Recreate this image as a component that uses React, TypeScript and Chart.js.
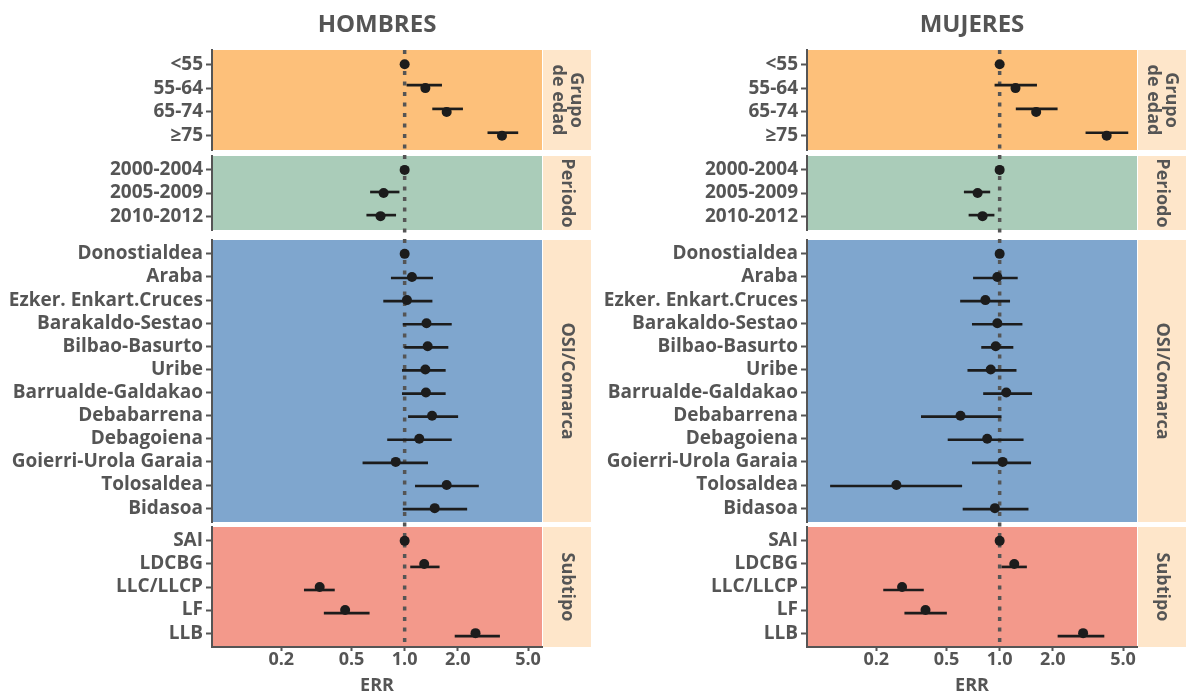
import React, { useEffect, useRef } from 'react';
import { Chart, registerables } from 'chart.js';

Chart.register(...registerables);

// ---------- categories ----------
const grupoLabels = ['<55', '55-64', '65-74', '≥75'];
const periodoLabels = ['2000-2004', '2005-2009', '2010-2012'];
const osiLabels = [
  'Donostialdea', 'Araba', 'Ezker. Enkart.Cruces', 'Barakaldo-Sestao', 'Bilbao-Basurto', 'Uribe',
  'Barrualde-Galdakao', 'Debabarrena', 'Debagoiena', 'Goierri-Urola Garaia', 'Tolosaldea', 'Bidasoa',
];
const subtipoLabels = ['SAI', 'LDCBG', 'LLC/LLCP', 'LF', 'LLB'];
const facetTitles = [['Grupo', 'de edad'], ['Periodo'], ['OSI/Comarca'], ['Subtipo']];
const xTicks = [0.2, 0.5, 1, 2, 5];
const xTitle = 'ERR';
const panelTitles = ['HOMBRES', 'MUJERES'];

// ---------- HOMBRES ----------
const hGrupoErr = [1, 1.31, 1.73, 3.56];
const hGrupoLo = [null, 1.03, 1.44, 2.96];
const hGrupoHi = [null, 1.62, 2.13, 4.38];
const hPeriodoErr = [1, 0.76, 0.73];
const hPeriodoLo = [null, 0.64, 0.61];
const hPeriodoHi = [null, 0.93, 0.89];
const hOsiErr = [1, 1.1, 1.03, 1.33, 1.35, 1.31, 1.32, 1.43, 1.21, 0.89, 1.73, 1.48];
const hOsiLo = [null, 0.84, 0.76, 0.98, 1.0, 0.97, 0.97, 1.05, 0.8, 0.58, 1.15, 0.98];
const hOsiHi = [null, 1.44, 1.43, 1.84, 1.76, 1.7, 1.7, 2.0, 1.84, 1.35, 2.62, 2.25];
const hSubtipoErr = [1, 1.29, 0.33, 0.46, 2.52];
const hSubtipoLo = [null, 1.08, 0.27, 0.35, 1.93];
const hSubtipoHi = [null, 1.57, 0.4, 0.63, 3.45];

// ---------- MUJERES ----------
const mGrupoErr = [1, 1.23, 1.61, 4.04];
const mGrupoLo = [null, 0.94, 1.24, 3.08];
const mGrupoHi = [null, 1.62, 2.12, 5.33];
const mPeriodoErr = [1, 0.75, 0.8];
const mPeriodoLo = [null, 0.63, 0.67];
const mPeriodoHi = [null, 0.88, 0.93];
const mOsiErr = [1, 0.97, 0.83, 0.97, 0.95, 0.89, 1.09, 0.6, 0.85, 1.04, 0.26, 0.94];
const mOsiLo = [null, 0.71, 0.6, 0.7, 0.79, 0.66, 0.81, 0.36, 0.51, 0.7, 0.11, 0.62];
const mOsiHi = [null, 1.26, 1.14, 1.34, 1.19, 1.24, 1.52, 1.02, 1.36, 1.5, 0.61, 1.45];
const mSubtipoErr = [1, 1.21, 0.28, 0.38, 2.97];
const mSubtipoLo = [null, 1.03, 0.22, 0.29, 2.14];
const mSubtipoHi = [null, 1.42, 0.37, 0.5, 3.9];

// ---------- styles / layout ----------
const FONT = 'Open Sans';
const TEXT = '#555555';
const AXIS = '#555555';
const MARK = '#1c1c1c';
const STRIP_BG = '#FEE6CA';
const FACET_COLORS = ['#FDC07A', '#AACCB9', '#7FA6CE', '#F3998B'];
const FACET_WEIGHTS = [100, 74, 282, 120];
const GAP_WEIGHTS = [6, 10, 5];
const X_MIN = 0.081;
const X_MAX = 6.0;
const CANVAS_W = [595, 594];
const CANVAS_H = 695;
const Y_AXIS_W = 212;
const X_AXIS_H = 48;
const STRIP_W = 48;
const Y_FONT = 19;
const X_FONT = 18;
const STRIP_FONT = 18;

type Facet = { id: string; labels: string[]; err: number[]; lo: (number | null)[]; hi: (number | null)[]; title: string[]; color: string };

function makeFacets(sets: any[][]): Facet[] {
  const labelSets = [grupoLabels, periodoLabels, osiLabels, subtipoLabels];
  const ids = ['yGrupo', 'yPeriodo', 'yOsi', 'ySubtipo'];
  return sets.map((s, i) => ({
    id: ids[i], labels: labelSets[i], err: s[0], lo: s[1], hi: s[2], title: facetTitles[i], color: FACET_COLORS[i],
  }));
}

const hombresFacets = makeFacets([
  [hGrupoErr, hGrupoLo, hGrupoHi],
  [hPeriodoErr, hPeriodoLo, hPeriodoHi],
  [hOsiErr, hOsiLo, hOsiHi],
  [hSubtipoErr, hSubtipoLo, hSubtipoHi],
]);
const mujeresFacets = makeFacets([
  [mGrupoErr, mGrupoLo, mGrupoHi],
  [mPeriodoErr, mPeriodoLo, mPeriodoHi],
  [mOsiErr, mOsiLo, mOsiHi],
  [mSubtipoErr, mSubtipoLo, mSubtipoHi],
]);

function buildConfig(title: string, facets: Facet[], rightPad: number): any {
  const scales: any = {
    x: {
      type: 'logarithmic',
      position: 'bottom',
      min: X_MIN,
      max: X_MAX,
      offset: false,
      afterBuildTicks: (s: any) => { s.ticks = xTicks.map((v) => ({ value: v })); },
      afterFit: (s: any) => { s.height = X_AXIS_H; },
      ticks: {
        autoSkip: false, maxRotation: 0, minRotation: 0, padding: 0, color: TEXT,
        font: { family: FONT, size: X_FONT, weight: 'bold', lineHeight: 1 },
        callback: (v: any) => Number(v).toFixed(1),
      },
      grid: { display: true, drawOnChartArea: false, drawTicks: true, tickLength: 4, tickWidth: 2, tickColor: AXIS, offset: false },
      border: { display: true, color: AXIS, width: 2 },
      title: { display: true, text: xTitle, color: TEXT, padding: 0, font: { family: FONT, size: X_FONT, weight: 'bold', lineHeight: 1 } },
    },
  };
  let w = 10;
  facets.forEach((f, i) => {
    scales[f.id] = {
      type: 'linear',
      position: 'left',
      stack: 'facets',
      stackWeight: FACET_WEIGHTS[i],
      weight: w--,
      reverse: true,
      offset: false,
      min: -0.6,
      max: f.labels.length - 0.4,
      afterBuildTicks: (s: any) => { s.ticks = f.labels.map((_, k) => ({ value: k })); },
      afterFit: (s: any) => { s.width = Y_AXIS_W; },
      ticks: {
        autoSkip: false, padding: 3, color: TEXT,
        font: { family: FONT, size: Y_FONT, weight: 'bold' },
        callback: (v: any) => f.labels[v] ?? '',
      },
      grid: { display: true, drawOnChartArea: false, drawTicks: true, tickLength: 6, tickWidth: 2, tickColor: AXIS, offset: false },
      border: { display: true, color: AXIS, width: 2 },
    };
    if (i < facets.length - 1) {
      scales['gap' + i] = {
        type: 'linear', position: 'left', stack: 'facets', stackWeight: GAP_WEIGHTS[i], weight: w--,
        min: 0, max: 1,
        afterFit: (s: any) => { s.width = Y_AXIS_W; },
        ticks: { display: false }, grid: { display: false }, border: { display: false },
      };
    }
  });

  const datasets: any[] = [];
  facets.forEach((f) => {
    datasets.push({
      type: 'bar',
      yAxisID: f.id,
      xAxisID: 'x',
      indexAxis: 'y',
      data: f.labels.flatMap((_, k) => (f.lo[k] == null ? [] : [{ y: k, x: [f.lo[k], f.hi[k]] }])),
      backgroundColor: MARK,
      borderWidth: 0,
      barThickness: 2,
    });
    datasets.push({
      type: 'scatter',
      yAxisID: f.id,
      xAxisID: 'x',
      data: f.err.map((v, k) => ({ x: v, y: k })),
      pointRadius: 5,
      pointHoverRadius: 5,
      backgroundColor: MARK,
      borderWidth: 0,
    });
  });

  const facetPlugin = {
    id: 'facetBackgrounds',
    beforeDraw(chart: any) {
      const { ctx, chartArea } = chart;
      ctx.save();
      facets.forEach((f) => {
        const s = chart.scales[f.id];
        const h = s.bottom - s.top;
        ctx.fillStyle = f.color;
        ctx.fillRect(chartArea.left, s.top, chartArea.right - chartArea.left, h);
        ctx.fillStyle = STRIP_BG;
        ctx.fillRect(chartArea.right + 1, s.top, STRIP_W, h);
        ctx.save();
        ctx.translate(chartArea.right + 1 + STRIP_W / 2, s.top + h / 2);
        ctx.rotate(Math.PI / 2);
        ctx.fillStyle = TEXT;
        ctx.font = `bold ${STRIP_FONT}px "${FONT}"`;
        ctx.textAlign = 'center';
        ctx.textBaseline = 'middle';
        const n = f.title.length;
        f.title.forEach((line, k) => ctx.fillText(line, 0, (k - (n - 1) / 2) * 17.5));
        ctx.restore();
      });
      ctx.restore();
    },
  };

  const refLinePlugin = {
    id: 'refLine',
    beforeDatasetsDraw(chart: any) {
      const { ctx, chartArea } = chart;
      const x = chart.scales.x.getPixelForValue(1);
      ctx.save();
      ctx.strokeStyle = AXIS;
      ctx.lineWidth = 3.5;
      ctx.setLineDash([4, 6.5]);
      ctx.beginPath();
      ctx.moveTo(x, chartArea.top);
      ctx.lineTo(x, chartArea.bottom - 2);
      ctx.stroke();
      ctx.restore();
    },
  };

  return {
    type: 'bar',
    data: { datasets },
    options: {
      indexAxis: 'y',
      animation: false,
      responsive: false,
      maintainAspectRatio: false,
      devicePixelRatio: 1,
      events: [],
      layout: { padding: { top: 0, left: 0, right: rightPad, bottom: 0 } },
      scales,
      plugins: {
        legend: { display: false },
        tooltip: { enabled: false },
        title: {
          display: true,
          text: title,
          fullSize: false,
          color: TEXT,
          font: { family: FONT, size: 24, weight: 'bold', lineHeight: 1.2 },
          padding: { top: 11, bottom: 10.2 },
        },
      },
    },
    plugins: [facetPlugin, refLinePlugin],
  };
}

function ForestChart({ title, facets, width, left }: { title: string; facets: Facet[]; width: number; left: number }) {
  const ref = useRef<HTMLCanvasElement | null>(null);
  useEffect(() => {
    if (!ref.current) return;
    const chart = new Chart(ref.current, buildConfig(title, facets, width - 542));
    return () => chart.destroy();
  }, [title, facets, width]);
  return (
    <canvas
      ref={ref}
      width={width}
      height={CANVAS_H}
      style={{ position: 'absolute', left, top: 0, width, height: CANVAS_H, display: 'block' }}
    />
  );
}

export default function App() {
  return (
    <div style={{ position: 'fixed', left: 0, top: 0, width: 1189, height: CANVAS_H, background: '#ffffff', overflow: 'hidden' }}>
      <ForestChart title={panelTitles[0]} facets={hombresFacets} width={CANVAS_W[0]} left={0} />
      <ForestChart title={panelTitles[1]} facets={mujeresFacets} width={CANVAS_W[1]} left={CANVAS_W[0]} />
    </div>
  );
}
